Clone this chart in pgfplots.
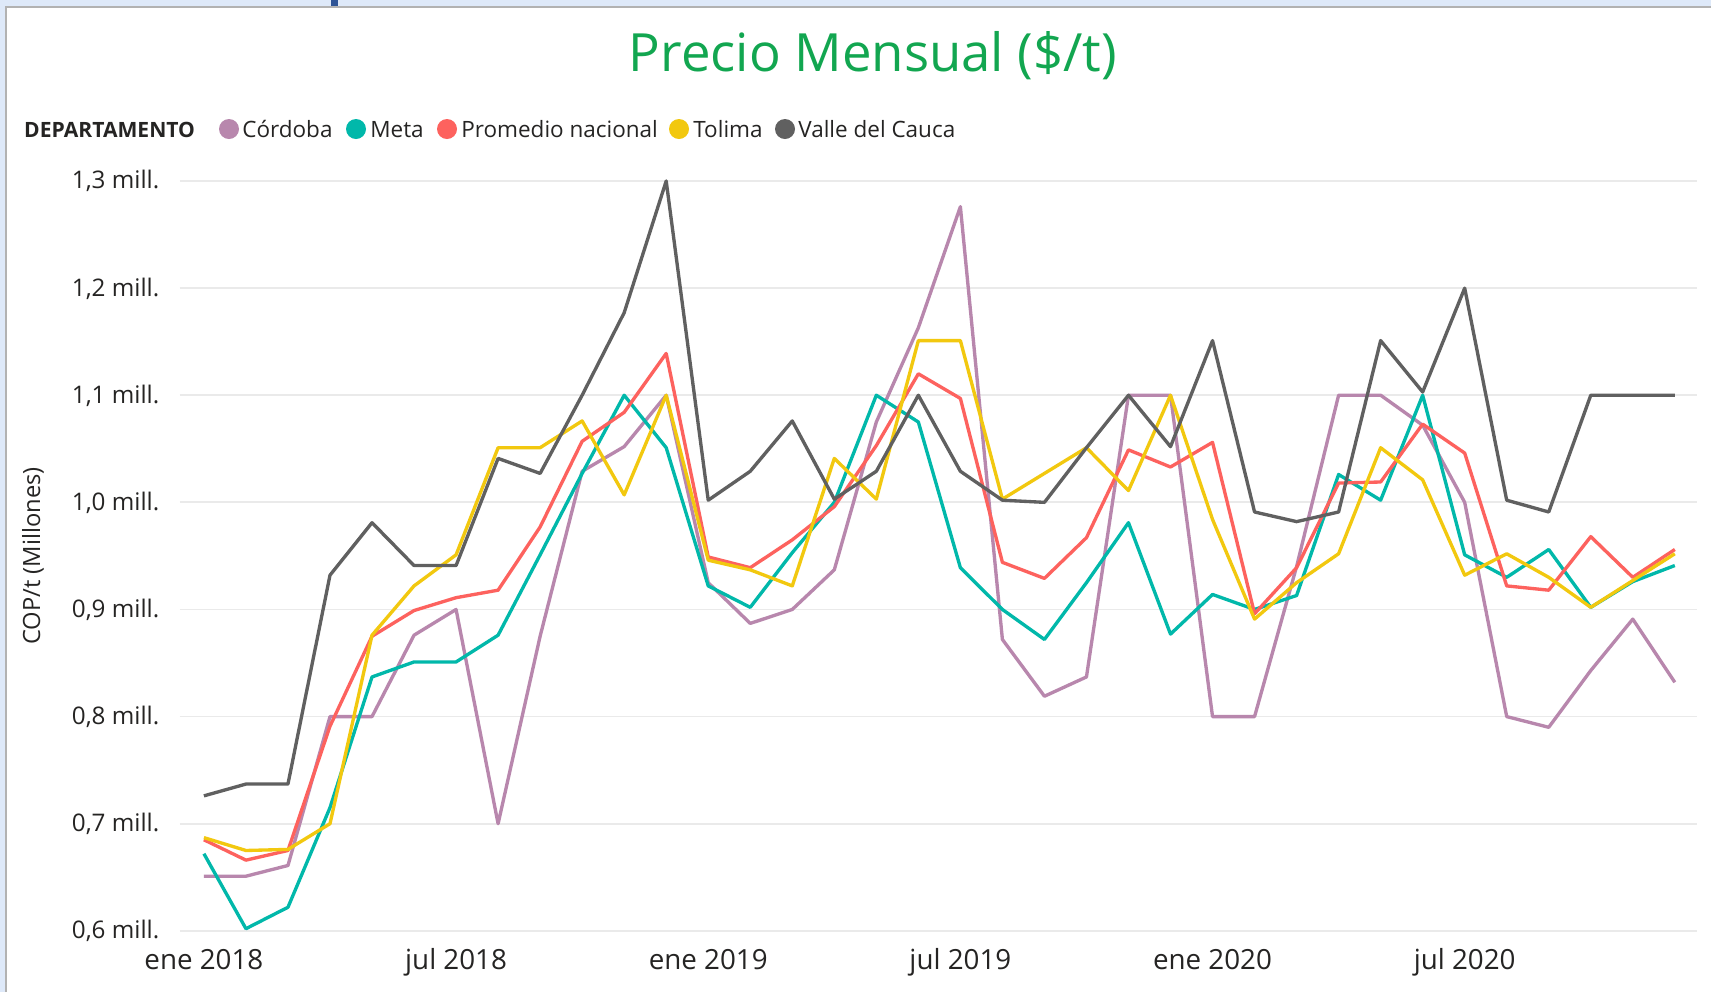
\documentclass[border=0pt]{standalone}
\usepackage{pgfplots}
\pgfplotsset{compat=1.18}
\usepackage{pgfplotstable}
\usepackage{fontspec}
\setmainfont{Open Sans}

\definecolor{cordoba}{RGB}{184,135,173}
\definecolor{meta}{RGB}{1,184,170}
\definecolor{promedio}{RGB}{253,98,94}
\definecolor{tolima}{RGB}{242,200,15}
\definecolor{valle}{RGB}{96,96,96}
\definecolor{titulo}{RGB}{18,166,80}
\definecolor{txt}{RGB}{37,36,35}
\definecolor{rejilla}{RGB}{234,234,234}
\definecolor{banda}{RGB}{222,233,249}
\definecolor{marco}{RGB}{178,178,178}
\definecolor{azul}{RGB}{47,85,151}

% mes (0 = ene 2018), precio en millones COP/t
\pgfplotstableread{
i  cor   met   pro   tol   val
0  0.651 0.672 0.685 0.687 0.726
1  0.651 0.602 0.666 0.675 0.737
2  0.661 0.622 0.675 0.676 0.737
3  0.800 0.715 0.791 0.700 0.932
4  0.800 0.837 0.875 0.876 0.981
5  0.876 0.851 0.899 0.922 0.941
6  0.900 0.851 0.911 0.951 0.941
7  0.700 0.876 0.918 1.051 1.041
8  0.875 0.951 0.977 1.051 1.027
9  1.029 1.027 1.057 1.076 1.100
10 1.052 1.100 1.084 1.007 1.177
11 1.100 1.051 1.139 1.100 1.300
12 0.925 0.922 0.949 0.946 1.002
13 0.887 0.902 0.939 0.937 1.029
14 0.900 0.953 0.965 0.922 1.076
15 0.937 1.000 0.996 1.041 1.003
16 1.075 1.100 1.053 1.003 1.029
17 1.163 1.075 1.120 1.151 1.100
18 1.276 0.939 1.097 1.151 1.029
19 0.872 0.900 0.944 1.003 1.002
20 0.819 0.872 0.929 1.027 1.000
21 0.837 0.925 0.967 1.051 1.051
22 1.100 0.981 1.049 1.011 1.100
23 1.100 0.877 1.033 1.100 1.052
24 0.800 0.914 1.056 0.984 1.151
25 0.800 0.900 0.896 0.891 0.991
26 0.940 0.913 0.939 0.925 0.982
27 1.100 1.026 1.018 0.952 0.991
28 1.100 1.002 1.019 1.051 1.151
29 1.072 1.100 1.073 1.021 1.103
30 1.000 0.951 1.046 0.932 1.200
31 0.800 0.930 0.922 0.952 1.002
32 0.790 0.956 0.918 0.930 0.991
33 0.843 0.902 0.968 0.902 1.100
34 0.891 0.926 0.930 0.927 1.100
35 0.832 0.941 0.956 0.952 1.100
}\precios

\begin{document}
\begin{tikzpicture}
% marco y textos, en pixeles de la captura (y hacia abajo)
\begin{scope}[x=0.02cm,y=-0.02cm]
\path[use as bounding box] (0,0) rectangle (1711,992);
\fill[banda] (0,0) rectangle (1711,992);
\fill[white] (6,7) rectangle (1711,992);
\draw[marco,line width=1.5] (6,992) -- (6,7) -- (1711,7);
\fill[azul] (331,0) rectangle (338,6);

\node[anchor=base,text=titulo,font=\fontsize{30}{34}\selectfont] at (873,71) {Precio Mensual (\$/t)};

\node[anchor=base west,text=txt,font=\fontsize{12}{14}\selectfont\bfseries] at (18,137) {DEPARTAMENTO};
\foreach \cx/\tx/\col/\lab in {229/242/cordoba/Córdoba,356/370/meta/Meta,447/461/promedio/Promedio nacional,679/693/tolima/Tolima,785/798/valle/Valle del Cauca}{
  \fill[\col] (\cx,129) circle (10);
  \node[anchor=base west,inner sep=0pt,text=txt,font=\fontsize{12.8}{14}\selectfont] at (\tx,137) {\lab};
}

\node[rotate=90,text=txt,font=\fontsize{13.5}{16}\selectfont] at (33,556) {COP/t (Millones)};
\end{scope}

\begin{axis}[
  at={(3.6cm,-18.62cm)}, anchor=south west,
  scale only axis, width=30.34cm, height=15cm,
  xmin=-0.57, xmax=35.52, ymin=0.6, ymax=1.3,
  clip=false,
  axis line style={draw=none},
  major tick length=0pt,
  ymajorgrids, grid style={rejilla, line width=1pt},
  xtick={0,6,12,18,24,30},
  xticklabels={ene 2018,jul 2018,ene 2019,jul 2019,ene 2020,jul 2020},
  ytick={0.6,0.7,0.8,0.9,1.0,1.1,1.2,1.3},
  yticklabels={{0,6 mill.},{0,7 mill.},{0,8 mill.},{0,9 mill.},{1,0 mill.},{1,1 mill.},{1,2 mill.},{1,3 mill.}},
  xticklabel style={anchor=base, yshift=-0.78cm, text=txt, font=\fontsize{15.8}{18}\selectfont},
  yticklabel style={anchor=base east, xshift=-0.29cm, yshift=-0.16cm, text=txt, font=\fontsize{13.8}{16}\selectfont},
  every axis plot/.append style={line width=1.9pt, line join=round, no markers},
]
\addplot[cordoba] table[x=i,y=cor] {\precios};
\addplot[meta] table[x=i,y=met] {\precios};
\addplot[promedio] table[x=i,y=pro] {\precios};
\addplot[tolima] table[x=i,y=tol] {\precios};
\addplot[valle] table[x=i,y=val] {\precios};
\end{axis}
\end{tikzpicture}
\end{document}
